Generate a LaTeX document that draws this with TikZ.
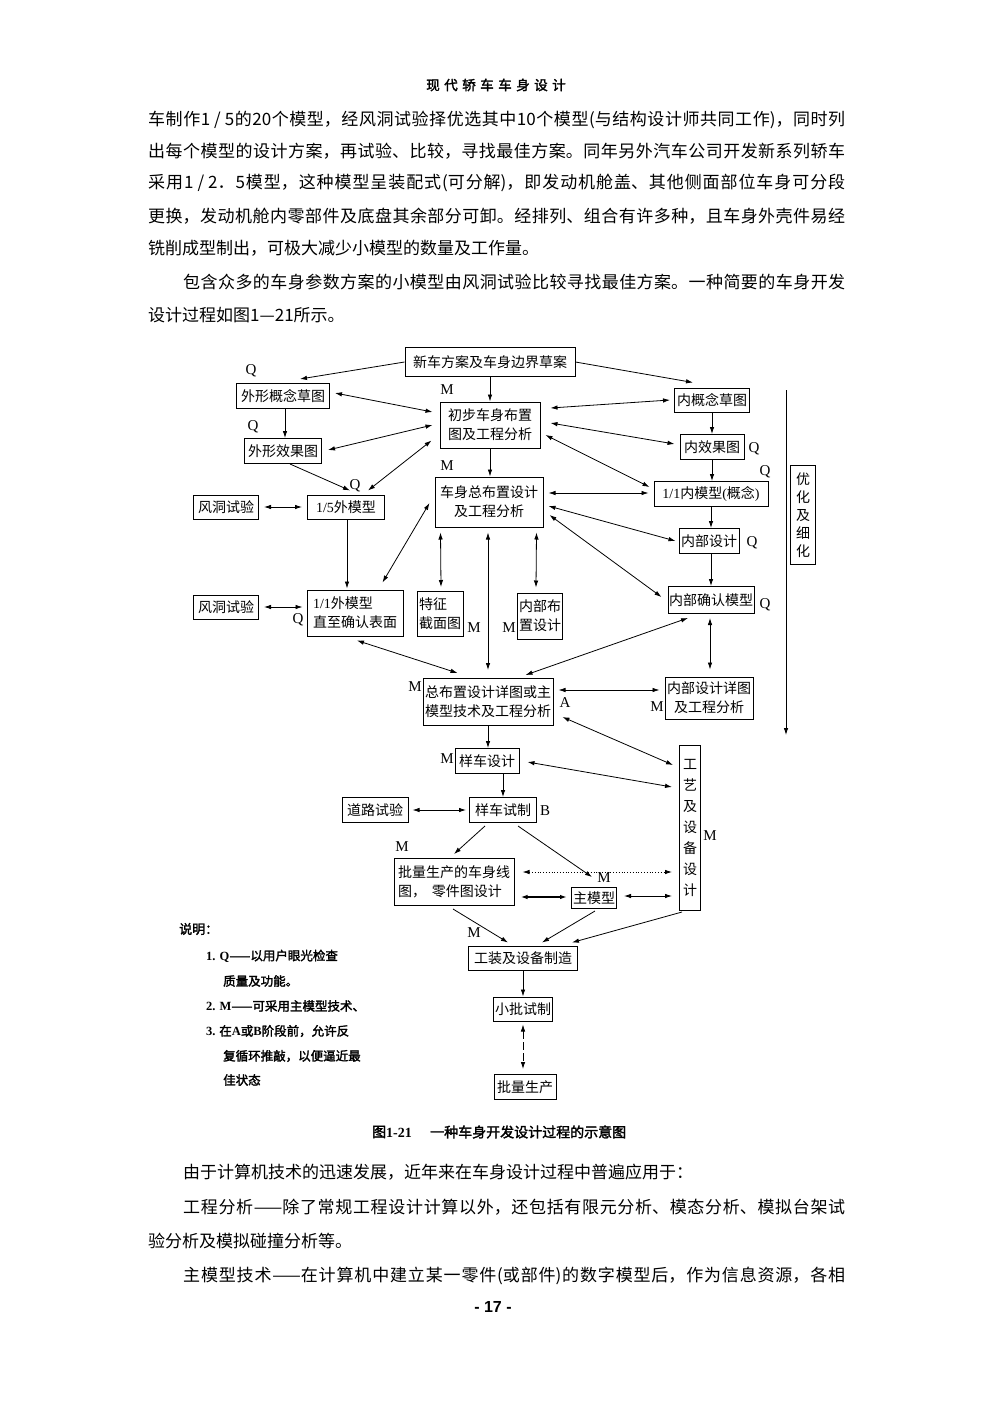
\documentclass[tikz,border=0pt]{standalone}
\usepackage{fontspec}
\setmainfont{Liberation Serif}
\newfontfamily\cjk{Noto Sans CJK SC}
\newfontfamily\cjkb{Noto Sans CJK SC}[FakeBold=2]
\newfontfamily\pgfont{Liberation Sans}
\usetikzlibrary{arrows.meta,calc}
\newcommand\lat[1]{{\rmfamily #1}}
\newcommand\latb[1]{{\rmfamily\bfseries #1}}
\newcommand\hsp{\hspace{4.5pt}}
\newcommand\jline[2]{\parbox{#1}{\XeTeXlinebreaklocale "zh"\XeTeXlinebreakskip=0pt plus 8pt\relax\tolerance=10000\pretolerance=-1\parfillskip=0pt\parindent=0pt\relax #2}}
\tikzset{
 box/.style={draw, line width=1pt, inner sep=1pt, font=\fontsize{14}{19}\selectfont\cjk, align=center},
 lbl/.style={inner sep=0pt, font=\fontsize{15}{15}\selectfont\rmfamily},
 con/.style={line width=0.8pt},
 arr/.style={con, -{Latex[length=7pt,width=4.5pt]}},
 darr/.style={con, {Latex[length=7pt,width=4.5pt]}-{Latex[length=7pt,width=4.5pt]}},
 body/.style={inner sep=0pt, anchor=west, font=\fontsize{17}{20}\selectfont\cjk},
 leg/.style={inner sep=0pt, anchor=west, font=\fontsize{12.5}{12.5}\selectfont\cjkb},
}
\begin{document}
\begin{tikzpicture}[x=1pt,y=-1pt]
\fill[white] (0,0) rectangle (992,1403);
\useasboundingbox (0,0) rectangle (992,1403);

% header
\node[inner sep=0pt, font=\fontsize{13.5}{13.5}\selectfont\cjkb] (hdr) at (496,85) {现\hsp 代\hsp 轿\hsp 车\hsp 车\hsp 身\hsp 设\hsp 计};

% body text top
\node[body] (t1) at (148,120) {\jline{697pt}{车制作1 / 5的20个模型，经风洞试验择优选其中10个模型(与结构设计师共同工作)，同时列}};
\node[body] (t2) at (148,151) {\jline{697pt}{出每个模型的设计方案，再试验、比较，寻找最佳方案。同年另外汽车公司开发新系列轿车}};
\node[body] (t3) at (148,183) {\jline{697pt}{采用1 / 2．5模型，这种模型呈装配式(可分解)，即发动机舱盖、其他侧面部位车身可分段}};
\node[body] (t4) at (148,216) {\jline{697pt}{更换，发动机舱内零部件及底盘其余部分可卸。经排列、组合有许多种，且车身外壳件易经}};
\node[body] (t5) at (148,248) {铣削成型制出，可极大减少小模型的数量及工作量。};
\node[body] (t6) at (183,282) {\jline{662pt}{包含众多的车身参数方案的小模型由风洞试验比较寻找最佳方案。一种简要的车身开发}};
\node[body] (t7) at (148,315) {设计过程如图1—21所示。};

% diagram boxes
\node[box, minimum width=170pt, minimum height=29pt] (n1) at (490,362) {新车方案及车身边界草案};
\node[box, minimum width=93pt, minimum height=25pt] (n2) at (283,396) {外形概念草图};
\node[box, minimum width=100pt, minimum height=46pt] (n3) at (490,425) {初步车身布置\\图及工程分析};
\node[box, minimum width=77pt, minimum height=25pt] (n4) at (283,451) {外形效果图};
\node[box, minimum width=75pt, minimum height=24pt] (n5) at (712,400) {内概念草图};
\node[box, minimum width=64pt, minimum height=25pt] (n6) at (712,447) {内效果图};
\node[box, minimum width=108pt, minimum height=50pt] (n7) at (489,502) {车身总布置设计\\及工程分析};
\node[box, minimum width=114pt, minimum height=25pt] (n8) at (711,494) {\lat{1/1}内模型\lat{(}概念\lat{)}};
\node[box, minimum width=65pt, minimum height=24pt] (n9) at (226,507) {风洞试验};
\node[box, minimum width=77pt, minimum height=24pt] (n10) at (346,507) {\lat{1/5}外模型};
\node[box, minimum width=60pt, minimum height=25pt] (n11) at (709,541) {内部设计};
\node[box, minimum width=25pt, minimum height=99pt, font=\fontsize{14}{18}\selectfont\cjk] (n12) at (803,515) {优\\化\\及\\细\\化};
\node[box, minimum width=65pt, minimum height=24pt] (n13) at (226,607) {风洞试验};
\node[box, minimum width=96pt, minimum height=46pt, align=left] (n14) at (355,613) {\lat{1/1}外模型\\直至确认表面};
\node[box, minimum width=46pt, minimum height=45pt, align=left] (n15) at (440,614) {特征\\截面图};
\node[box, minimum width=45pt, minimum height=46pt, align=left] (n16) at (540,616) {内部布\\置设计};
\node[box, minimum width=85pt, minimum height=27pt] (n17) at (711,600) {内部确认模型};
\node[box, minimum width=130pt, minimum height=47pt] (n18) at (488,702) {总布置设计详图或主\\模型技术及工程分析};
\node[box, minimum width=88pt, minimum height=42pt] (n19) at (709,698) {内部设计详图\\及工程分析};
\node[box, minimum width=64pt, minimum height=25pt] (n20) at (487,761) {样车设计};
\node[box, minimum width=21pt, minimum height=165pt, font=\fontsize{14}{21}\selectfont\cjk] (n21) at (690,828) {工\\艺\\及\\设\\备\\设\\计};
\node[box, minimum width=66pt, minimum height=25pt] (n22) at (375,810) {道路试验};
\node[box, minimum width=67pt, minimum height=25pt] (n23) at (503,810) {样车试制};
\node[box, minimum width=120pt, minimum height=47pt, align=left] (n24) at (454,882) {批量生产的车身线\\图，\hspace{6pt}零件图设计};
\node[box, minimum width=45pt, minimum height=21pt] (n25) at (594,898) {主模型};
\node[box, minimum width=109pt, minimum height=24pt] (n26) at (523,958) {工装及设备制造};
\node[box, minimum width=59pt, minimum height=24pt] (n27) at (523,1009) {小批试制};
\node[box, minimum width=62pt, minimum height=25pt] (n28) at (525,1087) {批量生产};

% labels
\node[lbl] (q1) at (251,371) {Q};
\node[lbl] (m1) at (447,390) {M};
\node[lbl] (q2) at (253,427) {Q};
\node[lbl] (m2) at (447,466) {M};
\node[lbl] (q3) at (754,449) {Q};
\node[lbl] (q4) at (765,472) {Q};
\node[lbl] (q5) at (355,486) {Q};
\node[lbl] (q6) at (752,543) {Q};
\node[lbl] (q7) at (298,620) {Q};
\node[lbl] (m3) at (474,628) {M};
\node[lbl] (m4) at (509,628) {M};
\node[lbl] (q8) at (765,605) {Q};
\node[lbl] (m5) at (415,687) {M};
\node[lbl] (a1) at (565,703) {A};
\node[lbl] (m6) at (657,707) {M};
\node[lbl] (m7) at (447,759) {M};
\node[lbl] (m8) at (710,836) {M};
\node[lbl] (b1) at (545,811) {B};
\node[lbl] (m9) at (402,847) {M};
\node[lbl] (m10) at (604,878) {M};
\node[lbl] (m11) at (474,933) {M};

% long side arrow
\coordinate (vt) at (786,390);
\coordinate (vb) at (786,735);
\draw[arr] (vt) -- (vb);

% connectors
\draw[arr] (n1.west) -- ($(n2.north east)+(-30,-4)$);
\draw[arr] (n1.south) -- (n3.north);
\draw[arr] (n1.east) -- ($(n5.north west)+(19,-5)$);
\draw[darr] ($(n2.east)+(5,-3)$) -- ($(n3.west)+(-7,-13)$);
\draw[arr] ($(n2.south)+(2,0)$) -- ($(n4.north)+(2,0)$);
\draw[darr] ($(n4.east)+(6,-1)$) -- ($(n3.west)+(-7,0)$);
\draw[arr] ($(n4.south)+(7,0)$) -- ($(n10.north)+(4,-4)$);
\draw[darr] ($(n3.south west)+(-8,-8)$) -- ($(n10.north)+(22,-4)$);
\draw[darr] ($(n9.east)+(5,0)$) -- ($(n10.west)+(-5,0)$);
\draw[arr] ($(n10.south)+(1,0)$) -- ($(n14.north)+(-8,-1)$);
\draw[darr] ($(n14.north east)+(-21,-7)$) -- ($(n7.west)+(-5,1)$);
\draw[arr] (n3.south) -- (n3.south |- n7.north);
\draw[darr] ($(n3.east)+(10,-17)$) -- ($(n5.west)+(-4,0)$);
\draw[darr] ($(n3.east)+(10,-2)$) -- ($(n6.west)+(-5,-3)$);
\draw[darr] ($(n3.east)+(5,10)$) -- ($(n8.west)+(-4,-7)$);
\draw[arr] (n5.south) -- (n6.north);
\draw[arr] (n6.south) -- (n6.south |- n8.north);
\draw[arr] (n8.south) -- (n8.south |- n11.north);
\draw[arr] (n17.north |- n11.south) -- (n17.north);
\draw[darr] ($(n7.east)+(5,-9)$) -- ($(n8.west)+(-5,-1)$);
\draw[darr] ($(n7.east)+(5,4)$) -- ($(n11.west)+(-3,0)$);
\draw[darr] ($(n7.east)+(6,13)$) -- ($(n17.west)+(-6,-3)$);
\draw[darr] ($(n7.south west)+(6,5)$) -- ($(n15.north)+(1,-4)$);
\draw[darr] ($(n7.south)+(-1,5)$) -- ($(n18.north)+(0,-8)$);
\draw[darr] ($(n7.south east)+(-7,5)$) -- ($(n16.north)+(-4,-5)$);
\draw[darr] ($(n13.east)+(5,0)$) -- ($(n14.west)+(-4,-6)$);
\draw[darr] ($(n14.south)+(2,4)$) -- ($(n18.north west)+(35,-5)$);
\draw[darr] ($(n17.south)+(-23,4)$) -- ($(n18.north east)+(-28,-3)$);
\draw[darr] ($(n17.south)+(-1,4)$) -- ($(n19.north)+(1,-7)$);
\draw[darr] ($(n18.east)+(5,-12)$) -- ($(n19.west)+(-5,-8)$);
\draw[darr] ($(n18.east)+(9,15)$) -- ($(n21.north west)+(-6,20)$);
\draw[arr] (n18.south) -- (n18.south |- n20.north);
\draw[darr] ($(n20.east)+(8,1)$) -- ($(n21.west)+(-7,-41)$);
\draw[arr] (n23.north |- n20.south) -- (n23.north);
\draw[darr] ($(n22.east)+(4,0)$) -- ($(n23.west)+(-3,0)$);
\draw[arr] ($(n23.south)+(-18,3)$) -- ($(n24.north)+(0,-4)$);
\draw[arr] ($(n23.south)+(15,3)$) -- ($(n25.north)+(-2,-10)$);
\draw[darr, dotted] ($(n24.east)+(8,-10)$) -- ($(n21.west)+(-7,44)$);
\draw[darr, line width=1.5pt] ($(n24.east)+(6,15)$) -- ($(n25.west)+(-4,-1)$);
\draw[darr] ($(n25.east)+(7,-2)$) -- ($(n21.west)+(-7,68)$);
\draw[arr] ($(n24.south)+(-1,3)$) -- ($(n26.north)+(-15,-3)$);
\draw[arr] ($(n25.south)+(1,2)$) -- ($(n26.north)+(19,-3)$);
\draw[arr] ($(n21.south)+(-8,1)$) -- ($(n26.north)+(49,-3)$);
\draw[arr] (n26.south) -- (n27.north);
\draw[darr, dash pattern=on 8pt off 3pt] ($(n27.south)+(0,3)$) -- ($(n28.north)+(-2,-5)$);

% legend
\node[leg, font=\fontsize{13}{13}\selectfont\cjkb] (s0) at (179,929) {说明：};
\node[leg] (s1) at (206,956) {\latb{1. Q}——以用户眼光检查};
\node[leg] (s2) at (223,981) {质量及功能。};
\node[leg] (s3) at (206,1006) {\latb{2. M}——可采用主模型技术、};
\node[leg] (s4) at (206,1031) {\latb{3.} 在\latb{A}或\latb{B}阶段前，允许反};
\node[leg] (s5) at (223,1056) {复循环推敲，以便逼近最};
\node[leg] (s6) at (223,1080) {佳状态};

% caption
\node[inner sep=0pt, anchor=west, font=\fontsize{14}{14}\selectfont\cjkb] (cap1) at (372,1132) {图\latb{1-21}};
\node[inner sep=0pt, anchor=west, font=\fontsize{14}{14}\selectfont\cjkb] (cap2) at (430,1132) {一种车身开发设计过程的示意图};

% bottom text
\node[body] (u1) at (183,1172) {由于计算机技术的迅速发展，近年来在车身设计过程中普遍应用于：};
\node[body] (u2) at (183,1207) {\jline{662pt}{工程分析——除了常规工程设计计算以外，还包括有限元分析、模态分析、模拟台架试}};
\node[body] (u3) at (148,1241) {验分析及模拟碰撞分析等。};
\node[body] (u4) at (183,1276) {\jline{662pt}{主模型技术——在计算机中建立某一零件(或部件)的数字模型后，作为信息资源，各相}};
\node[inner sep=0pt, font=\fontsize{16}{16}\selectfont\pgfont\bfseries] (pg) at (493,1307) {- 17 -};
\end{tikzpicture}
\end{document}
